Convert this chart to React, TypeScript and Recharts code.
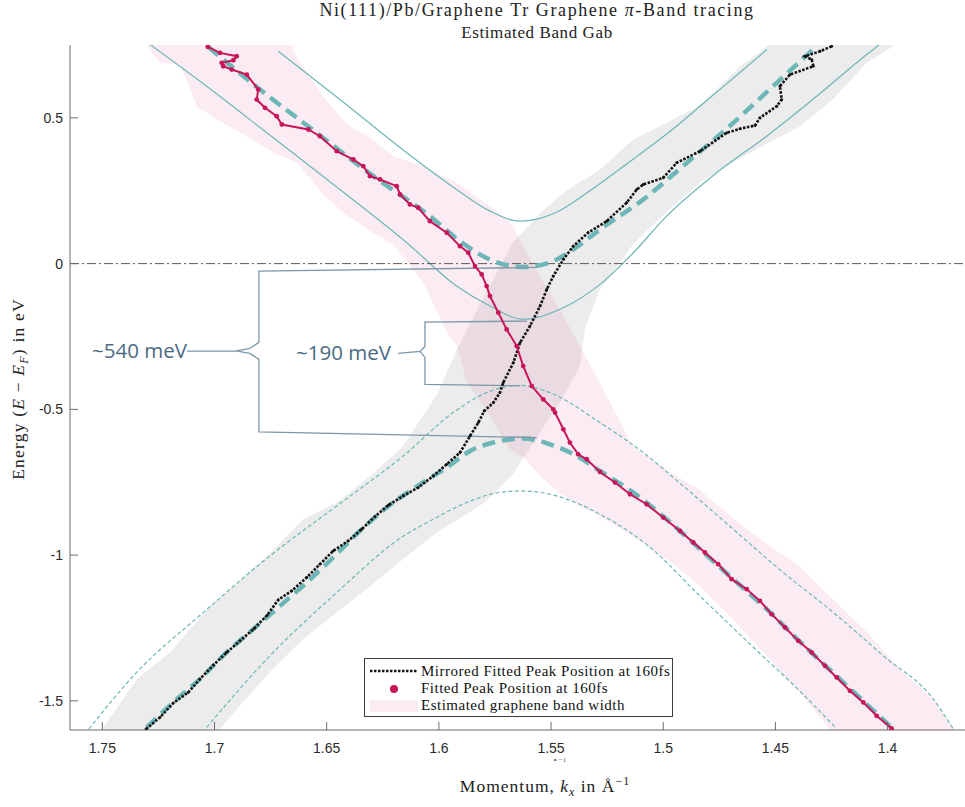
import React from 'react';
import { ComposedChart, Line, Area, XAxis, YAxis, ReferenceLine } from 'recharts';

// ---------- axis ticks ----------
const X_TICKS = [1.4, 1.45, 1.5, 1.55, 1.6, 1.65, 1.7, 1.75];
const Y_TICKS = [-1.5, -1, -0.5, 0, 0.5];
const X_DOMAIN = [1.3655, 1.7644];
const Y_DOMAIN = [-1.6, 0.75];

// ---------- measured peak positions [k, E] ----------
const fittedPeak = [
  [1.703, 0.7436], [1.6975, 0.723], [1.6901, 0.7114], [1.6916, 0.6976], [1.6968, 0.6887],
  [1.6961, 0.6771], [1.6923, 0.6658], [1.6856, 0.6486], [1.6805, 0.5972], [1.6812, 0.5629],
  [1.6775, 0.5345], [1.6723, 0.5057], [1.67, 0.4772], [1.6582, 0.4601], [1.653, 0.4371],
  [1.6455, 0.3857], [1.6381, 0.3572], [1.6337, 0.3342], [1.6307, 0.3], [1.6262, 0.2887],
  [1.6188, 0.2657], [1.6173, 0.2372], [1.6129, 0.2029], [1.6092, 0.1916], [1.604, 0.1457],
  [1.5965, 0.1059], [1.5906, 0.06], [1.5869, 0.0374], [1.5839, -0.0086], [1.5809, -0.037],
  [1.5787, -0.0771], [1.5772, -0.1114], [1.5735, -0.1683], [1.5698, -0.2256], [1.5653, -0.2828],
  [1.5624, -0.3514], [1.5586, -0.42], [1.5535, -0.4655], [1.549, -0.4998], [1.5482, -0.5111],
  [1.5445, -0.5684], [1.5416, -0.614], [1.5379, -0.6541], [1.5341, -0.6712], [1.5282, -0.7148],
  [1.5215, -0.7511], [1.5148, -0.7912], [1.5074, -0.8255], [1.5, -0.8711], [1.4925, -0.917],
  [1.4866, -0.9568], [1.4814, -0.9911], [1.4755, -1.0312], [1.4695, -1.0826], [1.4628, -1.1169],
  [1.4569, -1.157], [1.4517, -1.2026], [1.4457, -1.2482], [1.4398, -1.2941], [1.4338, -1.3339],
  [1.4279, -1.3799], [1.4227, -1.4196], [1.4168, -1.4656], [1.4108, -1.5053], [1.4049, -1.5513],
  [1.3982, -1.5945],
];

const mirroredPeak = [
  [1.7305, -1.5969], [1.7243, -1.5567], [1.7184, -1.5077], [1.7117, -1.471], [1.7065, -1.4254],
  [1.7005, -1.3774], [1.6946, -1.3339], [1.6886, -1.2941], [1.6823, -1.2516], [1.6765, -1.206],
  [1.6716, -1.1536], [1.6656, -1.1227], [1.6589, -1.0768], [1.653, -1.0312], [1.6471, -0.9856],
  [1.6404, -0.9513], [1.6344, -0.9112], [1.6285, -0.8677], [1.6225, -0.8289], [1.6159, -0.7971],
  [1.6092, -0.7683], [1.6025, -0.7285], [1.5965, -0.6884], [1.5906, -0.6483], [1.5861, -0.5914],
  [1.5824, -0.5454], [1.5798, -0.5057], [1.5757, -0.4769], [1.5728, -0.4426], [1.5713, -0.4083],
  [1.5668, -0.3397], [1.5638, -0.2712], [1.5594, -0.2143], [1.5549, -0.1457], [1.5519, -0.0884],
  [1.549, -0.0429], [1.5445, 0.0144], [1.5401, 0.06], [1.5335, 0.1059], [1.5252, 0.1457],
  [1.5163, 0.2088], [1.5118, 0.2544], [1.5089, 0.2715], [1.5, 0.2945], [1.494, 0.3459],
  [1.4836, 0.3857], [1.4717, 0.4488], [1.4658, 0.4625], [1.4591, 0.4738], [1.4569, 0.5002],
  [1.4494, 0.5399], [1.4472, 0.5629], [1.448, 0.6085], [1.4435, 0.6486], [1.4331, 0.6771],
  [1.4338, 0.7], [1.4368, 0.7114], [1.4301, 0.7285], [1.4249, 0.7456],
];

// ---------- fitted bands [k, E] ----------
const upperFit = [
  [1.7028, 0.7436], [1.6797, 0.5972], [1.6574, 0.4659], [1.6292, 0.3], [1.604, 0.1628],
  [1.5906, 0.0771], [1.5757, 0.0086], [1.5624, -0.0113], [1.5505, 0.004], [1.5401, 0.0487],
  [1.5282, 0.1172], [1.5089, 0.2201], [1.4896, 0.345], [1.4688, 0.483], [1.4494, 0.6202],
  [1.4316, 0.7456],
];
const lowerFit = [
  [1.7302, -1.591], [1.7184, -1.5053], [1.7065, -1.4254], [1.6946, -1.3339], [1.6827, -1.254],
  [1.6708, -1.1742], [1.6589, -1.0939], [1.6471, -1.0082], [1.6352, -0.917], [1.6233, -0.8368],
  [1.6099, -0.765], [1.5965, -0.6997], [1.5861, -0.6428], [1.5728, -0.6085], [1.5624, -0.6003],
  [1.5505, -0.6198], [1.5386, -0.6599], [1.5282, -0.7114], [1.5133, -0.7854], [1.4985, -0.8769],
  [1.4836, -0.9798], [1.4688, -1.0826], [1.4539, -1.1855], [1.4391, -1.2972], [1.4242, -1.4045],
  [1.4093, -1.5118], [1.3989, -1.5866],
];
const upperBandTop = [
  [1.6716, 0.7285], [1.6441, 0.5629], [1.6143, 0.3802], [1.5921, 0.2544], [1.5772, 0.18],
  [1.5638, 0.1457], [1.5478, 0.1755], [1.5344, 0.2407], [1.5148, 0.3504], [1.4948, 0.4669],
  [1.4801, 0.5629], [1.4658, 0.6555], [1.4538, 0.7343],
];
const upperBandBottom = [
  [1.7287, 0.7515], [1.7035, 0.6085], [1.6738, 0.4316], [1.6441, 0.2544], [1.6143, 0.0717],
  [1.5921, -0.0771], [1.5772, -0.1457], [1.5624, -0.1913], [1.543, -0.1457], [1.5282, -0.0713],
  [1.5133, 0.0374], [1.4985, 0.1628], [1.4762, 0.3116], [1.4539, 0.4371], [1.4316, 0.5742],
  [1.4093, 0.7172], [1.4026, 0.7573],
];
const lowerBandTop = [
  [1.756, -1.5969], [1.7347, -1.4025], [1.705, -1.1968], [1.6753, -1.0027], [1.6455, -0.8313],
  [1.6159, -0.6599], [1.5936, -0.5111], [1.5787, -0.4426], [1.5638, -0.4176], [1.5505, -0.4426],
  [1.5282, -0.5454], [1.5089, -0.6483], [1.4911, -0.7628], [1.4688, -0.9112], [1.4465, -1.0597],
  [1.4242, -1.1968], [1.4019, -1.3456], [1.3796, -1.494], [1.3707, -1.5969],
];
const lowerBandBottom = [
  [1.7035, -1.591], [1.6753, -1.3456], [1.6455, -1.1282], [1.6159, -0.9352], [1.6025, -0.8769],
  [1.5876, -0.8197], [1.575, -0.7878], [1.5638, -0.7799], [1.5505, -0.7912], [1.5393, -0.8187],
  [1.5282, -0.8598], [1.5135, -0.9284], [1.5059, -0.9729], [1.4836, -1.1409], [1.4613, -1.3055],
  [1.4391, -1.4666], [1.4234, -1.59],
];

// ---------- estimated band widths [k, Elow, Ehigh] ----------
const pinkBand = [
  [1.7301, 0.7446, 1.0], [1.7243, 0.6898, 1.0], [1.7154, 0.6829, 1.0], [1.7078, 0.5389, 1.0],
  [1.6989, 0.4943, 1.0], [1.6855, 0.4361, 1.0], [1.6739, 0.3812, 1.0], [1.6663, 0.3572, 0.76],
  [1.6632, 0.3469, 0.7059], [1.6516, 0.2372, 0.5742], [1.6409, 0.1652, 0.4772], [1.6294, 0.107, 0.4258],
  [1.6204, 0.0658, 0.3685], [1.6071, -0.062, 0.3342], [1.5964, -0.2359, 0.2938], [1.5919, -0.2839, 0.2767],
  [1.5875, -0.4073, 0.2527], [1.5772, -0.5238, 0.1971], [1.5683, -0.637, 0.1447], [1.5616, -0.6678, 0.0487],
  [1.5549, -0.7295, -0.0439], [1.546, -0.7878, -0.1604], [1.5371, -0.8324, -0.2839], [1.5282, -0.8666, -0.4107],
  [1.5135, -0.9352, -0.6267], [1.4983, -1.0141, -0.709], [1.4836, -1.1066, -0.7775], [1.4689, -1.2197, -0.8735],
  [1.4538, -1.3466, -0.9626], [1.4391, -1.4734, -1.0381], [1.4257, -1.5969, -1.1409], [1.4212, -1.8, -1.1752],
  [1.4092, -1.8, -1.2643], [1.3945, -1.8, -1.3912], [1.3798, -1.8, -1.494], [1.3655, -1.8, -1.6483],
];
const grayBand = [
  [1.751, -2.0, -1.6037], [1.7501, -2.0, -1.5969], [1.7345, -2.0, -1.4254], [1.7198, -2.0, -1.3329],
  [1.702, -2.0, -1.1752], [1.6975, -1.5969, -1.146], [1.69, -1.5283, -1.0963], [1.6753, -1.4014, -0.9935],
  [1.6606, -1.2883, -0.8769], [1.6454, -1.1958, -0.8187], [1.6307, -1.1066, -0.7295], [1.616, -1.0141, -0.6267],
  [1.6008, -0.9215, -0.4484], [1.5919, -0.8804, -0.2941], [1.5794, -0.8187, -0.1056], [1.567, -0.7227, 0.0727],
  [1.5549, -0.5787, 0.1721], [1.546, -0.4758, 0.2338], [1.5371, -0.3524, 0.2818], [1.5349, -0.2235, 0.2887],
  [1.5282, -0.0884, 0.3229], [1.5135, 0.0658, 0.4258], [1.4983, 0.179, 0.4841], [1.4836, 0.2784, 0.5423],
  [1.4658, 0.3606, 0.676], [1.4538, 0.4121, 0.7446], [1.4391, 0.4703, 1.0], [1.4244, 0.5629, 1.0],
  [1.4092, 0.6898, 1.0], [1.3976, 0.7446, 1.0], [1.39, 1.0, 1.0],
];

// ---------- gap annotation brackets [k, E] ----------
const bigBracket = [
  [1.5563, -0.013], [1.6802, -0.0257], [1.6802, -0.2701], [1.6842, -0.2907], [1.6904, -0.2993],
  [1.7123, -0.3], [1.6904, -0.2993], [1.6842, -0.3079], [1.6802, -0.3284], [1.6802, -0.5776],
  [1.5564, -0.5968],
];
const smallBracket = [
  [1.5607, -0.1971], [1.6062, -0.2005], [1.6062, -0.2839], [1.6084, -0.301], [1.6182, -0.3079],
  [1.6084, -0.301], [1.6062, -0.3216], [1.6062, -0.4141], [1.5638, -0.4193],
];

// ---------- styling ----------
const TEAL = '#6db6b8';
const RED = '#c8155a';
const BRACKET = '#7e97a9';
const AXIS = '#6b6b6b';
const SERIF = '"Liberation Serif", "Times New Roman", serif';
const SANS = '"Liberation Sans", Arial, sans-serif';

const pts = (a: number[][]) => a.map(([x, y]) => ({ x, y }));
const band = (a: number[][]) => a.map(([x, lo, hi]) => ({ x, range: [lo, hi] }));

const fmt = (v: number) => String(v);

const XTick = (props: any) => {
  const { x, y, payload } = props;
  return (
    <g>
      <line x1={x} x2={x} y1={y - 8} y2={y - 16} stroke={AXIS} strokeWidth={1} />
      <text x={x} y={y + 15} textAnchor="middle" fontFamily={SANS} fontSize={14} fill="#2a2a2a">
        {fmt(payload.value)}
      </text>
    </g>
  );
};
const YTick = (props: any) => {
  const { x, y, payload } = props;
  return (
    <g>
      <line x1={x + 8} x2={x + 16} y1={y} y2={y} stroke={AXIS} strokeWidth={1} />
      <text x={x + 1} y={y + 5} textAnchor="end" fontFamily={SANS} fontSize={14} fill="#2a2a2a">
        {fmt(payload.value)}
      </text>
    </g>
  );
};

const thin = (data: number[][], dash?: string) => (
  <Line
    data={pts(data)}
    dataKey="y"
    type="monotone"
    stroke={TEAL}
    strokeWidth={1.2}
    strokeDasharray={dash}
    dot={false}
    activeDot={false}
    isAnimationActive={false}
  />
);

export default function App() {
  return (
    <div style={{ position: 'absolute', left: 0, top: 0, width: 965, height: 807, background: '#fff' }}>
      <ComposedChart width={965} height={807} margin={{ top: 45, right: 0, bottom: 0, left: 0 }}>
        <XAxis
          type="number"
          dataKey="x"
          domain={X_DOMAIN}
          reversed
          allowDataOverflow
          ticks={X_TICKS}
          tick={XTick}
          tickLine={false}
          tickSize={8}
          tickMargin={0}
          height={77}
          stroke={AXIS}
          interval={0}
        />
        <YAxis
          type="number"
          domain={Y_DOMAIN}
          allowDataOverflow
          ticks={Y_TICKS}
          tick={YTick}
          tickLine={false}
          tickSize={8}
          tickMargin={0}
          width={70}
          stroke={AXIS}
          interval={0}
        />
        <Area data={band(grayBand)} dataKey="range" type="linear" stroke="none" fill="#000000" fillOpacity={0.075} isAnimationActive={false} activeDot={false} />
        <Area data={band(pinkBand)} dataKey="range" type="linear" stroke="none" fill="#d0457f" fillOpacity={0.1} isAnimationActive={false} activeDot={false} />
        {thin(upperBandTop)}
        {thin(upperBandBottom)}
        {thin(lowerBandTop, '4 2.5')}
        {thin(lowerBandBottom, '4 2.5')}
        <ReferenceLine y={0} stroke="#5a5a5a" strokeWidth={1} strokeDasharray="9 3 2 3" />
        <Line data={pts(upperFit)} dataKey="y" type="monotone" stroke={TEAL} strokeWidth={4.5} strokeDasharray="13 7" dot={false} activeDot={false} isAnimationActive={false} />
        <Line data={pts(lowerFit)} dataKey="y" type="monotone" stroke={TEAL} strokeWidth={4.5} strokeDasharray="13 7" dot={false} activeDot={false} isAnimationActive={false} />
        <Line data={pts(bigBracket)} dataKey="y" type="linear" stroke={BRACKET} strokeWidth={1.3} dot={false} activeDot={false} isAnimationActive={false} />
        <Line data={pts(smallBracket)} dataKey="y" type="linear" stroke={BRACKET} strokeWidth={1.3} dot={false} activeDot={false} isAnimationActive={false} />
        <Line data={pts(mirroredPeak)} dataKey="y" type="linear" stroke="#111" strokeWidth={2.6} strokeDasharray="2.5 1.5" dot={{ r: 1.4, fill: '#111', stroke: 'none' }} activeDot={false} isAnimationActive={false} />
        <Line data={pts(fittedPeak)} dataKey="y" type="linear" stroke={RED} strokeWidth={2} dot={{ r: 2.4, fill: RED, stroke: 'none' }} activeDot={false} isAnimationActive={false} />
      </ComposedChart>

      {/* title */}
      <div style={{ position: 'absolute', left: 0, width: 1074, top: 0, textAlign: 'center', fontFamily: SERIF, fontSize: 18, letterSpacing: 1.6, lineHeight: '20px', color: '#222' }}>
        Ni(111)/Pb/Graphene Tr Graphene <i>π</i>-Band tracing
      </div>
      <div style={{ position: 'absolute', left: 0, width: 1074, top: 23, textAlign: 'center', fontFamily: SERIF, fontSize: 17, letterSpacing: 0.6, lineHeight: '20px', color: '#222' }}>
        Estimated Band Gab
      </div>

      {/* axis labels */}
      <div style={{ position: 'absolute', left: 20, top: 389, transform: 'translate(-50%, -50%) rotate(-90deg)', whiteSpace: 'nowrap', fontFamily: SERIF, fontSize: 17.5, letterSpacing: 1.2, color: '#222' }}>
        Energy (<i>E</i> − <i>E</i><sub style={{ fontSize: 12 }}><i>F</i></sub>) in eV
      </div>
      <div style={{ position: 'absolute', left: 545, top: 787, transform: 'translate(-50%, -50%)', whiteSpace: 'nowrap', fontFamily: SERIF, fontSize: 17.5, letterSpacing: 1, color: '#222' }}>
        Momentum, <i>k</i><sub style={{ fontSize: 12 }}><i>x</i></sub> in Å<sup style={{ fontSize: 12 }}>−1</sup>
      </div>
      <div style={{ position: 'absolute', left: 553, top: 756, lineHeight: '8px', whiteSpace: 'nowrap', fontFamily: SERIF, fontSize: 7, color: '#555' }}>
        ∘ −1
      </div>

      {/* annotations */}
      <div style={{ position: 'absolute', left: 92, top: 338, whiteSpace: 'nowrap', fontFamily: '"Open Sans", sans-serif', fontSize: 20.5, lineHeight: '24px', color: '#4c6a83' }}>
        ~540 meV
      </div>
      <div style={{ position: 'absolute', left: 296, top: 340, whiteSpace: 'nowrap', fontFamily: '"Open Sans", sans-serif', fontSize: 20.5, lineHeight: '24px', color: '#4c6a83' }}>
        ~190 meV
      </div>

      {/* legend */}
      <div style={{ position: 'absolute', left: 364, top: 658, width: 309, height: 59, boxSizing: 'border-box', border: '1px solid #3c3c3c', background: '#fff', fontFamily: SERIF, fontSize: 15, letterSpacing: 0.5, color: '#111' }}>
        <svg width={56} height={57} style={{ position: 'absolute', left: 0, top: 0 }}>
          <line x1={5} x2={52} y1={12} y2={12} stroke="#111" strokeWidth={2.6} strokeDasharray="2.5 1.5" />
          <circle cx={29} cy={30} r={4} fill={RED} />
          <rect x={5} y={41} width={48} height={12} fill="#d0457f" fillOpacity={0.1} />
        </svg>
        <div style={{ position: 'absolute', left: 56, top: 3, lineHeight: '18px', whiteSpace: 'nowrap' }}>Mirrored Fitted Peak Position at 160fs</div>
        <div style={{ position: 'absolute', left: 56, top: 20, lineHeight: '18px', whiteSpace: 'nowrap' }}>Fitted Peak Position at 160fs</div>
        <div style={{ position: 'absolute', left: 56, top: 37, lineHeight: '18px', whiteSpace: 'nowrap' }}>Estimated graphene band width</div>
      </div>
    </div>
  );
}
